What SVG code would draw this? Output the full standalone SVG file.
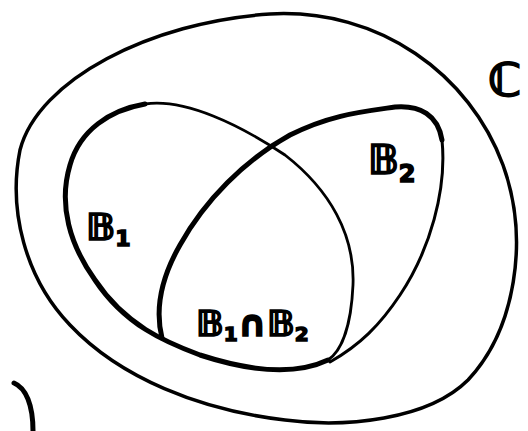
<svg xmlns="http://www.w3.org/2000/svg" width="528" height="431" viewBox="0 0 528 431">
<style>
.ln{fill:none;stroke:#000;stroke-linecap:round;stroke-linejoin:round}
.lbl{font-family:"DejaVu Sans","Noto Sans",sans-serif;fill:#000;stroke:#000;stroke-width:1.6;font-weight:bold}
</style>
<rect width="528" height="431" fill="#fff"/>
<g id="outer">
<path class="ln" stroke-width="3.5" d="M 270 14 C 380 8, 470 75, 503 165 C 530 240, 515 330, 468 380 C 428 420, 345 428, 285 420 C 200 410, 120 378, 70 325 C 25 278, 8 210, 20 150 C 38 80, 150 22, 270 14 Z"/>
</g>
<g id="B1">
<path class="ln" stroke-width="5" d="M 145 104 C 110 110, 80 130, 70 165 C 58 205, 70 245, 95 280 C 125 325, 165 342, 200 355 C 240 368, 290 378, 328 360"/>
<path class="ln" stroke-width="2.8" d="M 145 104 C 185 98, 240 125, 285 155 C 330 190, 355 235, 353 285 C 351 330, 340 352, 328 360"/>
<text class="lbl" x="86" y="240" font-size="38">𝔹<tspan font-size="22" dy="6">1</tspan></text>
</g>
<g id="B2">
<path class="ln" stroke-width="5" d="M 162 338 C 155 310, 160 280, 180 245 C 205 200, 245 160, 290 135 C 330 115, 360 112, 395 107 C 420 105, 438 115, 442 140"/>
<path class="ln" stroke-width="3" d="M 442 140 C 447 190, 430 250, 400 295 C 380 325, 360 345, 330 362"/>
<text class="lbl" x="368" y="174" font-size="40">𝔹<tspan font-size="24" dy="8">2</tspan></text>
</g>
<g id="intersection">
<text class="lbl" x="196" y="336" font-size="36">𝔹<tspan font-size="20" dy="5">1</tspan><tspan dy="-5">∩𝔹</tspan><tspan font-size="20" dy="5">2</tspan></text>
</g>
<g id="C">
<text class="lbl" x="488" y="96" font-size="46" stroke-width="2.5">ℂ</text>
</g>
<g id="connectors">
<path class="ln" stroke-width="5" d="M 14 383 C 26 388, 33 405, 33 431"/>
</g>
</svg>
